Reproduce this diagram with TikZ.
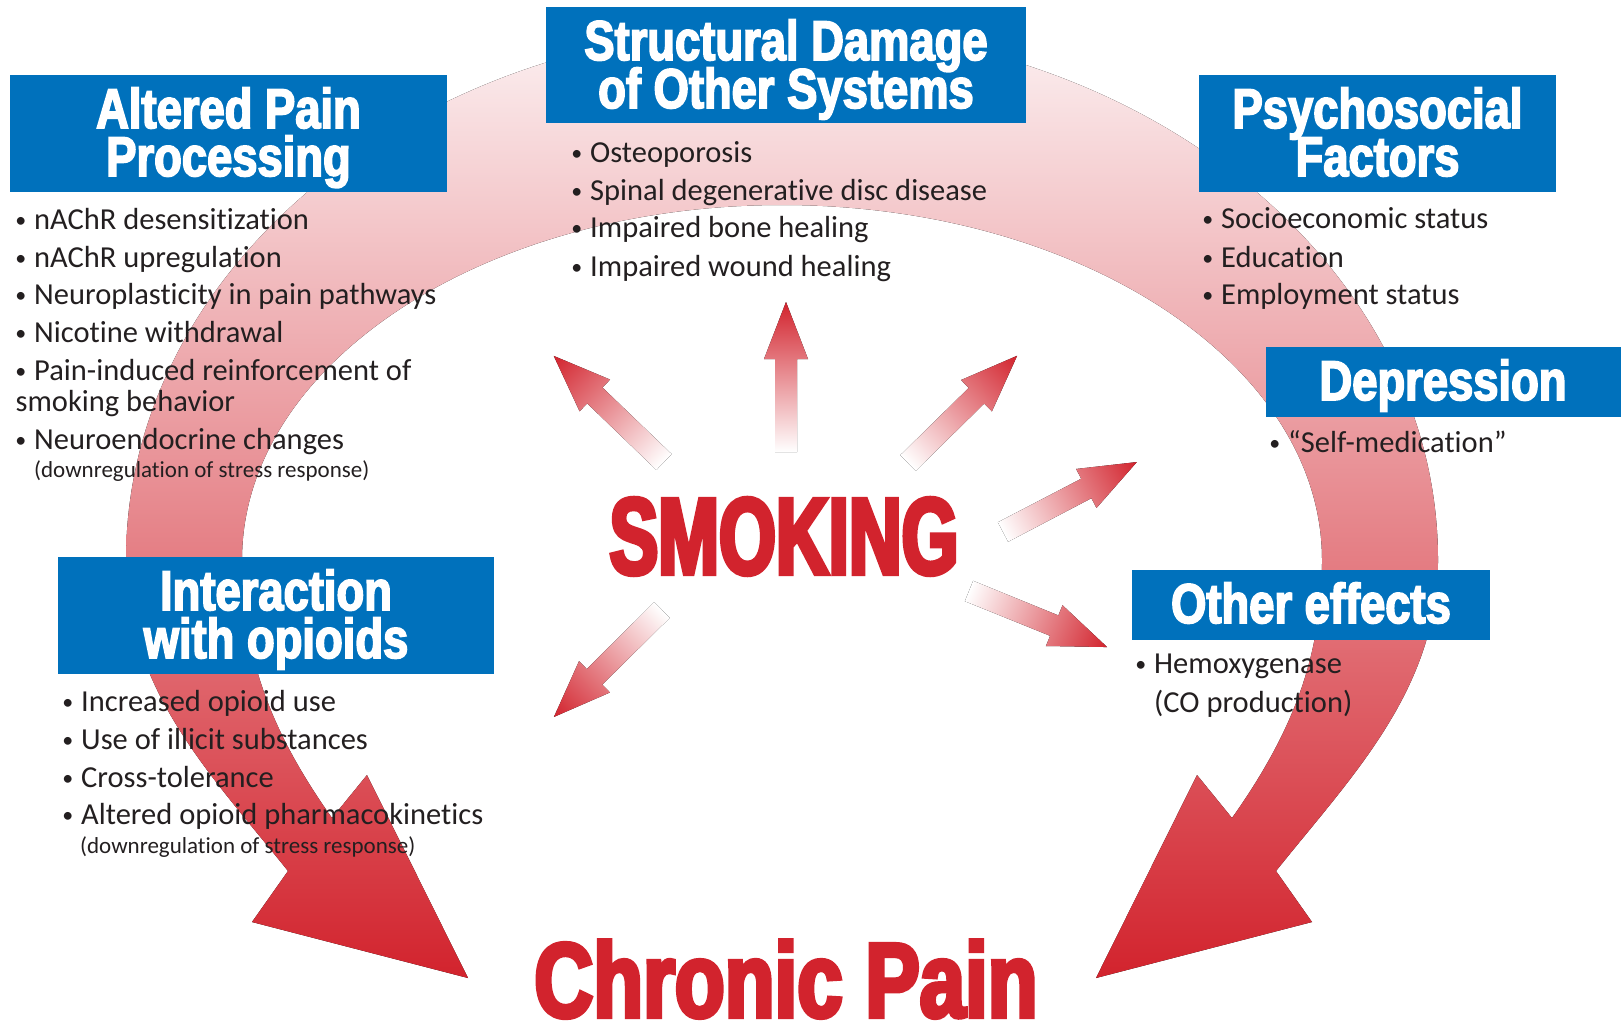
\documentclass[tikz,border=0pt]{standalone}
\usepackage{fontspec}
\setmainfont{Carlito}[Ligatures=NoCommon]
\newfontfamily\titlefont{Liberation Sans Bold}[FakeStretch=0.81,FakeBold=3]
\newfontfamily\smokefont{Liberation Sans Bold}[FakeStretch=0.67,FakeBold=4]
\newfontfamily\painfont{Liberation Sans Bold}[FakeStretch=0.77,FakeBold=4]
\definecolor{boxblue}{RGB}{0,113,188}
\definecolor{smokered}{RGB}{210,35,45}
\definecolor{txt}{RGB}{35,31,32}
\definecolor{ringtop}{RGB}{252,241,242}
\definecolor{ringbot}{RGB}{210,35,45}
\newcommand\mybul{\llap{\raisebox{1.5pt}{\scalebox{0.72}{\textbullet}}\hspace{8pt}}}
\newcommand\twoline[2]{\vtop{\baselineskip=48pt\lineskiplimit=-100pt\lineskip=0pt
  \halign{\hfil##\hfil\cr#1\cr#2\cr}}}
\newcommand\smarrow[3]{%
  \begin{scope}[transform canvas={shift={(#1)},rotate=#2}]
    \fill[left color=white,right color=smokered]
      (0,-11) -- ({#3-57},-11) -- ({#3-57},-22) -- (#3,0) -- ({#3-57},22) -- ({#3-57},11) -- (0,11) -- cycle;
  \end{scope}}
\begin{document}
\begin{tikzpicture}[x=1pt,y=-1pt,
  bluebox/.style={fill=boxblue,inner sep=0pt,outer sep=0pt,anchor=north west},
  ttl/.style={text=white,font={\titlefont\fontsize{56}{56}\selectfont},anchor=base,inner sep=0pt},
  itm/.style={text=txt,font={\fontsize{30.5}{37}\selectfont},anchor=base west,inner sep=0pt},
  sml/.style={text=txt,font={\fontsize{23}{28}\selectfont},anchor=base west,inner sep=0pt}]
\useasboundingbox (0,0) rectangle (1621,1023);
\fill[white] (0,0) rectangle (1621,1023);
% big ring arrow
\fill[top color=ringtop,bottom color=ringbot]
  (288,871) .. controls (213,777) and (126,690) .. (126,560)
  arc[start angle=180,end angle=360,x radius=656,y radius=533]
  .. controls (1438,690) and (1351,777) .. (1276,871)
  -- (1312,922) -- (1096,978) -- (1197,775) -- (1232,818)
  .. controls (1290,736) and (1322,660) .. (1322,560)
  arc[start angle=360,end angle=180,x radius=540,y radius=355]
  .. controls (242,660) and (274,736) .. (332,818)
  -- (367,775) -- (468,978) -- (252,922) -- cycle;
% small arrows from SMOKING
\coordinate (a1) at (664,462);
\coordinate (a2) at (786,452);
\coordinate (a3) at (908,463);
\coordinate (a4) at (1003,532);
\coordinate (a5) at (969,591);
\coordinate (a6) at (662,610);
\smarrow{a1}{136.1}{153}
\smarrow{a2}{90}{150}
\smarrow{a3}{44.5}{153}
\smarrow{a4}{27.6}{151}
\smarrow{a5}{-22.1}{149}
\smarrow{a6}{-135.3}{152}
% central words
\node[text=smokered,font={\smokefont\fontsize{109}{109}\selectfont},anchor=base,inner sep=0pt,text depth=0pt] (smoking) at (784,574) {SMOKING};
\node[text=smokered,font={\painfont\fontsize{106}{106}\selectfont},anchor=base,inner sep=0pt,text depth=0pt] (pain) at (786,1017) {Chronic Pain};
% boxes
\node[bluebox,minimum width=437pt,minimum height=117pt] (apbox) at (10,75) {};
\node[bluebox,minimum width=480pt,minimum height=116pt] (sdbox) at (546,7) {};
\node[bluebox,minimum width=357pt,minimum height=117pt] (psbox) at (1199,75) {};
\node[bluebox,minimum width=355pt,minimum height=70pt] (dpbox) at (1266,347) {};
\node[bluebox,minimum width=436pt,minimum height=117pt] (iobox) at (58,557) {};
\node[bluebox,minimum width=358pt,minimum height=70pt] (oebox) at (1132,570) {};
% titles
\node[ttl] (ap-t) at (228.5,128) {\twoline{Altered Pain}{Processing}};
\node[ttl] (sd-t) at (786,60) {\twoline{Structural Damage}{of Other Systems}};
\node[ttl] (ps-t) at (1377.5,128) {\twoline{Psychosocial}{Factors}};
\node[ttl] (dp-t) at (1443,400) {Depression};
\node[ttl] (io-t) at (276,610) {\twoline{Interaction}{with opioids}};
\node[ttl] (oe-t) at (1311,623) {Other effects};
% lists
\node[itm] (ap1) at (34,229) {\mybul nAChR desensitization};
\node[itm] (ap2) at (34,267) {\mybul nAChR upregulation};
\node[itm] (ap3) at (34,304) {\mybul Neuroplasticity in pain pathways};
\node[itm] (ap4) at (34,342) {\mybul Nicotine withdrawal};
\node[itm] (ap5) at (34,380) {\mybul Pain-induced reinforcement of};
\node[itm] (ap6) at (15.5,411) {smoking behavior};
\node[itm] (ap7) at (34,449) {\mybul Neuroendocrine changes};
\node[sml] (ap8) at (34,477) {(downregulation of stress response)};
\node[itm] (sd1) at (590,162) {\mybul Osteoporosis};
\node[itm] (sd2) at (590,200) {\mybul Spinal degenerative disc disease};
\node[itm] (sd3) at (590,237) {\mybul Impaired bone healing};
\node[itm] (sd4) at (590,276) {\mybul Impaired wound healing};
\node[itm] (ps1) at (1221,228) {\mybul Socioeconomic status};
\node[itm] (ps2) at (1221,267) {\mybul Education};
\node[itm] (ps3) at (1221,304) {\mybul Employment status};
\node[itm] (dp1) at (1288,452) {\mybul “Self-medication”};
\node[itm] (io1) at (81,711) {\mybul Increased opioid use};
\node[itm] (io2) at (81,749) {\mybul Use of illicit substances};
\node[itm] (io3) at (81,787) {\mybul Cross-tolerance};
\node[itm] (io4) at (81,824) {\mybul Altered opioid pharmacokinetics};
\node[sml] (io5) at (80,853) {(downregulation of stress response)};
\node[itm] (oe1) at (1154,673) {\mybul Hemoxygenase};
\node[itm] (oe2) at (1154,712) {(CO production)};
\end{tikzpicture}
\end{document}
